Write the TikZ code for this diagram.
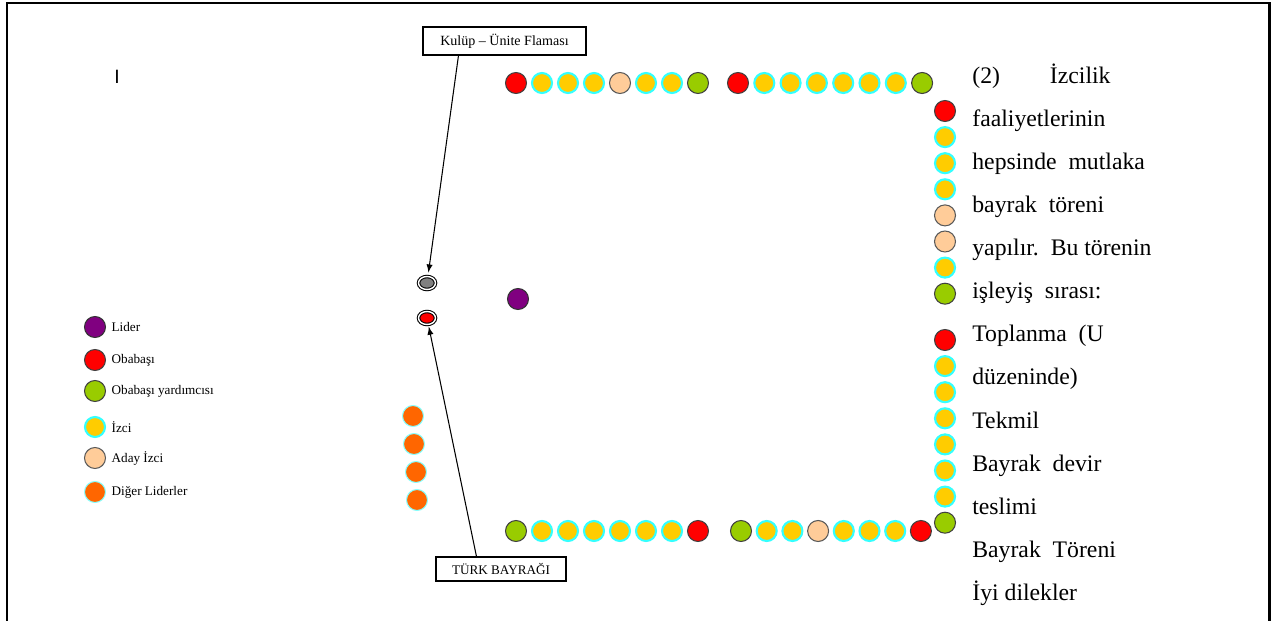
\documentclass[tikz,border=0pt]{standalone}
\usepackage{fontspec}
\setmainfont{Liberation Serif}
\newfontfamily\duzyazi{Liberation Sans}
\usetikzlibrary{arrows,shapes,positioning}

\definecolor{lidermor}{HTML}{800080}
\definecolor{yesil}{HTML}{99CC00}
\definecolor{sari}{HTML}{FFCC00}
\definecolor{turkuaz}{HTML}{33FFFF}
\definecolor{ten}{HTML}{FFCC99}
\definecolor{turuncu}{HTML}{FF6600}

\tikzset{
  uye/.style={circle, minimum size=0.42cm, inner sep=0pt, line width=0.6pt},
  lider/.style={uye, fill=lidermor, draw=black!80},
  obabasi/.style={uye, fill=red, draw=black!75},
  yardimci/.style={uye, fill=yesil, draw=black!75},
  izci/.style={uye, fill=sari, draw=turkuaz, line width=1.2pt, minimum size=0.4cm},
  aday/.style={uye, fill=ten, draw=black!65},
  diger/.style={uye, fill=turuncu, draw=turkuaz!60},
  bayrak/.style={ellipse, minimum width=0.34cm, minimum height=0.26cm, inner sep=0pt,
    draw=black, line width=0.6pt, double=white, double distance=0.8pt},
  aciklama/.style={right=3pt, inner sep=0pt, font=\fontsize{7.5}{8}\selectfont},
  etiket/.style={draw, line width=0.6pt, inner sep=0pt, font=\fontsize{8}{9}\selectfont},
  satir/.style={anchor=base west, inner sep=0pt, font=\fontsize{13.5}{15}\selectfont}
}

\begin{document}
\begin{tikzpicture}[x=0.02cm, y=-0.02cm]
  \useasboundingbox (0,0) rectangle (1271,621);
  \draw[line width=1.2pt] (7,621) -- (7,3) -- (1269.5,3) -- (1269.5,621);

  \node[font=\duzyazi\fontsize{11}{11}\selectfont, inner sep=0pt] (imlec) at (117,77) {I};

  % U duzeni: ust sira
  \foreach \t [count=\i from 0] in {obabasi,izci,izci,izci,aday,izci,izci,yardimci}
    \node[\t] (ustA\i) at (516+26*\i,83) {};
  \foreach \t [count=\i from 0] in {obabasi,izci,izci,izci,izci,izci,izci,yardimci}
    \node[\t] (ustB\i) at (738+26.3*\i,83) {};
  % sag sira
  \foreach \t [count=\i from 0] in {obabasi,izci,izci,izci,aday,aday,izci,yardimci}
    \node[\t] (sagA\i) at (945,111+26.1*\i) {};
  \foreach \t [count=\i from 0] in {obabasi,izci,izci,izci,izci,izci,izci,yardimci}
    \node[\t] (sagB\i) at (945,340+26.1*\i) {};
  % alt sira
  \foreach \t [count=\i from 0] in {yardimci,izci,izci,izci,izci,izci,izci,obabasi}
    \node[\t] (altA\i) at (516+26*\i,531) {};
  \foreach \t [count=\i from 0] in {yardimci,izci,izci,aday,izci,izci,izci,obabasi}
    \node[\t] (altB\i) at (741+25.7*\i,531) {};

  % diger liderler ve lider
  \node[diger] (digerA) at (413,416) {};
  \node[diger] (digerB) at (414,444) {};
  \node[diger] (digerC) at (416,472) {};
  \node[diger] (digerD) at (417,500) {};
  \node[lider] (lider) at (518,299) {};

  % bayraklar
  \node[bayrak, fill=gray] (flama) at (427,283) {};
  \node[bayrak, fill=red] (turkbayragi) at (427,318) {};
  \node[etiket, minimum width=3.26cm, minimum height=0.56cm] (kulup) at (504.5,41) {Kulüp – Ünite Flaması};
  \node[etiket, minimum width=2.6cm, minimum height=0.48cm, font=\fontsize{7.5}{8}\selectfont] (turk) at (501,569) {TÜRK BAYRAĞI};
  \draw[-latex, line width=0.6pt, shorten >=2pt] ([xshift=0.72cm]kulup.south west) -- (flama);
  \draw[-latex, line width=0.6pt, shorten >=1pt] ([xshift=0.82cm]turk.north west) -- (turkbayragi);

  % lejant
  \node[lider] (lLider) at (95,327) {};
  \node[aciklama] at (lLider.east) {Lider};
  \node[obabasi] (lObabasi) at (95,360) {};
  \node[aciklama] at (lObabasi.east) {Obabaşı};
  \node[yardimci] (lYardimci) at (95,391) {};
  \node[aciklama] at (lYardimci.east) {Obabaşı yardımcısı};
  \node[izci] (lIzci) at (95,427) {};
  \node[aciklama] at (lIzci.east) {İzci};
  \node[aday] (lAday) at (95,458) {};
  \node[aciklama] at (lAday.east) {Aday İzci};
  \node[diger] (lDiger) at (95,492) {};
  \node[aciklama] at (lDiger.east) {Diğer Liderler};

  % sag metin
  \foreach \s [count=\i from 0] in {(2)\hspace{1cm}İzcilik, faaliyetlerinin,
      hepsinde\ \ mutlaka, bayrak\ \ töreni, yapılır.\ \ Bu törenin,
      işleyiş\ \ sırası:, Toplanma\ \ (U, düzeninde), Tekmil, Bayrak\ \ devir,
      teslimi, Bayrak\ \ Töreni, İyi dilekler}
    \node[satir] (metin\i) at (972,84+43*\i) {\s};
\end{tikzpicture}
\end{document}
